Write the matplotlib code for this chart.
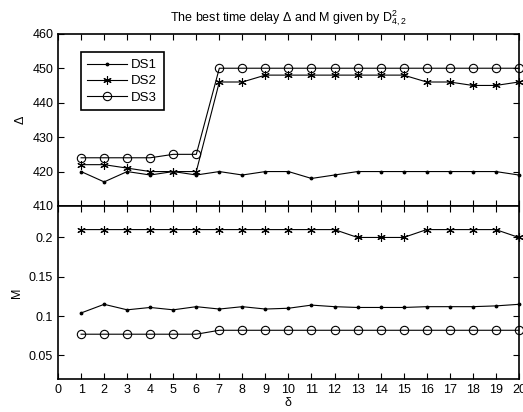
import numpy as np
import matplotlib.pyplot as plt

plt.rcParams['font.family'] = ['Liberation Sans', 'DejaVu Sans']
plt.rcParams['mathtext.fontset'] = 'custom'
plt.rcParams['mathtext.rm'] = 'Liberation Sans'
plt.rcParams['mathtext.it'] = 'Liberation Sans'

delta = np.arange(1, 21)

# best time delay per dataset
d_ds1 = [420, 417, 420, 419, 420, 419, 420, 419, 420, 420, 418, 419, 420, 420, 420, 420, 420, 420, 420, 419]
d_ds2 = [422, 422, 421, 420, 420, 420, 446, 446, 448, 448, 448, 448, 448, 448, 448, 446, 446, 445, 445, 446]
d_ds3 = [424, 424, 424, 424, 425, 425, 450, 450, 450, 450, 450, 450, 450, 450, 450, 450, 450, 450, 450, 450]

# M per dataset
m_ds1 = [0.104, 0.115, 0.108, 0.111, 0.108, 0.112, 0.109, 0.112, 0.109, 0.110,
         0.114, 0.112, 0.111, 0.111, 0.111, 0.112, 0.112, 0.112, 0.113, 0.115]
m_ds2 = [0.21] * 12 + [0.20] * 3 + [0.21] * 4 + [0.20]
m_ds3 = [0.077] * 6 + [0.082] * 14

labels = ['DS1', 'DS2', 'DS3']
styles = [dict(marker='.', markersize=3.5),
          dict(marker=(6, 2, 0), markersize=6, markeredgewidth=0.8),
          dict(marker='o', markersize=6, markerfacecolor='none', markeredgewidth=0.8)]

fig = plt.figure(figsize=(5.23, 4.12), dpi=100)
ax1 = fig.add_axes([0.111, 0.5, 0.881, 0.418])
ax2 = fig.add_axes([0.111, 0.08, 0.881, 0.42])

for y, lab, st in zip([d_ds1, d_ds2, d_ds3], labels, styles):
    ax1.plot(delta, y, color='black', linewidth=0.8, label=lab, clip_on=False, **st)
for y, st in zip([m_ds1, m_ds2, m_ds3], styles):
    ax2.plot(delta, y, color='black', linewidth=0.8, clip_on=False, **st)

for ax in (ax1, ax2):
    ax.set_xlim(0, 20)
    ax.set_xticks(range(0, 21))
    ax.tick_params(direction='in', top=True, right=True, labelsize=9, length=4, width=0.8)
    for s in ax.spines.values():
        s.set_linewidth(1.2)

ax1.set_ylim(410, 460)
ax1.set_yticks(range(410, 461, 10))
ax1.tick_params(labelbottom=False)
ax1.set_ylabel('Δ', fontsize=9)
ax1.set_title('The best time delay Δ and M given by $\\mathregular{D^2_{4,2}}$', fontsize=9, pad=9)
leg = ax1.legend(loc='upper left', bbox_to_anchor=(0.035, 0.93), fontsize=9.5, fancybox=False,
                 framealpha=1, edgecolor='black', handlelength=3.0, borderpad=0.5,
                 labelspacing=0.3, handletextpad=0.3)
leg.get_frame().set_linewidth(1.2)

ax2.set_ylim(0.02, 0.24)
ax2.set_yticks([0.05, 0.1, 0.15, 0.2])
ax2.set_yticklabels(['0.05', '0.1', '0.15', '0.2'])
ax2.set_ylabel('M', fontsize=9)
ax2.set_xlabel('δ', fontsize=9, labelpad=1)

fig.savefig('out.png', dpi=100)
